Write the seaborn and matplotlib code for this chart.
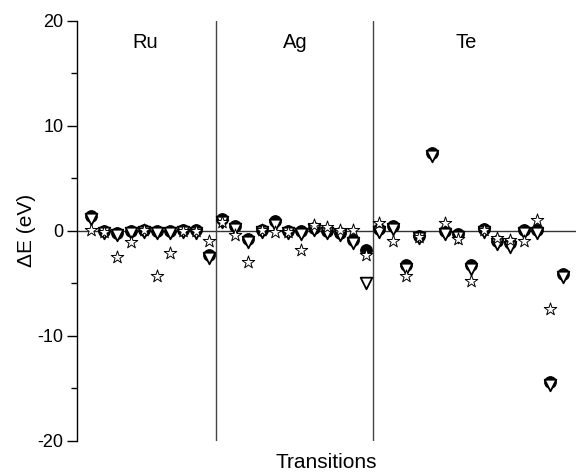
import matplotlib
matplotlib.use("Agg")
import matplotlib.pyplot as plt
import seaborn as sns
import numpy as np
import pandas as pd
from matplotlib.ticker import MultipleLocator

# energy differences (eV) per transition
# Ru: 10 transitions, Ag: 12, Te: 15
circle_vals = [1.4, 0.0, -0.2, 0.0, 0.1, 0.0, 0.0, 0.1, 0.1, -2.3,
               1.1, 0.5, -0.8, 0.1, 0.9, 0.0, 0.0, 0.3, 0.0, -0.2, -0.9, -1.8,
               0.2, 0.5, -3.3, -0.5, 7.4, 0.0, -0.3, -3.3, 0.2, -1.0, -1.2,
               0.1, 0.1, -14.4, -4.1]
tri_vals = [1.1, -0.2, -0.4, -0.2, -0.1, -0.2, -0.2, -0.1, -0.2, -2.6,
            0.8, 0.2, -1.1, -0.1, 0.6, -0.2, -0.3, 0.1, -0.2, -0.4, -1.2, -5.0,
            -0.1, 0.2, -3.6, -0.7, 7.1, -0.3, -0.6, -3.6, -0.1, -1.3, -1.5,
            -0.2, -0.2, -14.7, -4.4]
star_vals = [0.1, -0.1, -2.5, -1.1, 0.1, -4.3, -2.1, 0.0, 0.0, -1.0,
             0.8, -0.4, -3.0, 0.1, -0.1, -0.1, -1.8, 0.6, 0.4, 0.1, 0.1, -2.3,
             0.7, -1.0, -4.3, -0.6, np.nan, 0.7, -0.8, -4.8, 0.1, -0.7, -0.9,
             -1.0, 1.0, -7.4, np.nan]
groups = ["Ru", "Ag", "Te"]
group_sizes = [10, 12, 15]
group_label_x = [4.1, 15.6, 28.6]

x = np.arange(len(circle_vals))
df = pd.DataFrame({"x": x, "circle": circle_vals, "tri": tri_vals, "star": star_vals})

sns.set_style("white")
plt.rcParams["font.family"] = ["Liberation Sans", "DejaVu Sans"]
plt.rcParams["axes.unicode_minus"] = False
plt.rcParams["text.color"] = "black"
plt.rcParams["axes.labelcolor"] = "black"
plt.rcParams["ytick.color"] = "black"

fig = plt.figure(figsize=(5.76, 4.74), dpi=100)
ax = fig.add_axes([0.134, 0.070, 0.866, 0.886])

# zero line and group separators
ax.axhline(0, color="#333333", lw=1.0, zorder=1)
bounds = np.cumsum(group_sizes)[:-1] - 0.5
for b in bounds:
    ax.axvline(b, color="#444444", lw=1.0, zorder=1)

sns.scatterplot(data=df, x="x", y="circle", marker="o", s=70, color="black",
                edgecolor="black", linewidth=0.8, ax=ax, zorder=3)
sns.scatterplot(data=df, x="x", y="tri", marker="v", s=70, color="white",
                edgecolor="black", linewidth=1.3, ax=ax, zorder=4)
sns.scatterplot(data=df, x="x", y="star", marker="*", s=90, color="white",
                edgecolor="black", linewidth=0.7, ax=ax, zorder=5)

for name, gx in zip(groups, group_label_x):
    ax.text(gx, 17.9, name, ha="center", va="center", fontsize=14.5)

ax.set_xlim(-1.07, 37.0)
ax.set_ylim(-20, 20)
ax.yaxis.set_major_locator(MultipleLocator(10))
ax.yaxis.set_minor_locator(MultipleLocator(5))
ax.tick_params(axis="y", which="major", direction="out", length=7, width=1,
               left=True, labelsize=13, color="black", labelcolor="black", pad=3)
ax.tick_params(axis="y", which="minor", direction="out", length=4, width=1,
               left=True, color="black")
ax.set_xticks([])

for side in ["top", "right", "bottom"]:
    ax.spines[side].set_visible(False)
ax.spines["left"].set_color("black")
ax.spines["left"].set_linewidth(1.0)

ax.set_ylabel("\u0394E (eV)", fontsize=15, labelpad=1)
ax.set_xlabel("Transitions", fontsize=15, labelpad=9)

fig.savefig("out.png", dpi=100)
